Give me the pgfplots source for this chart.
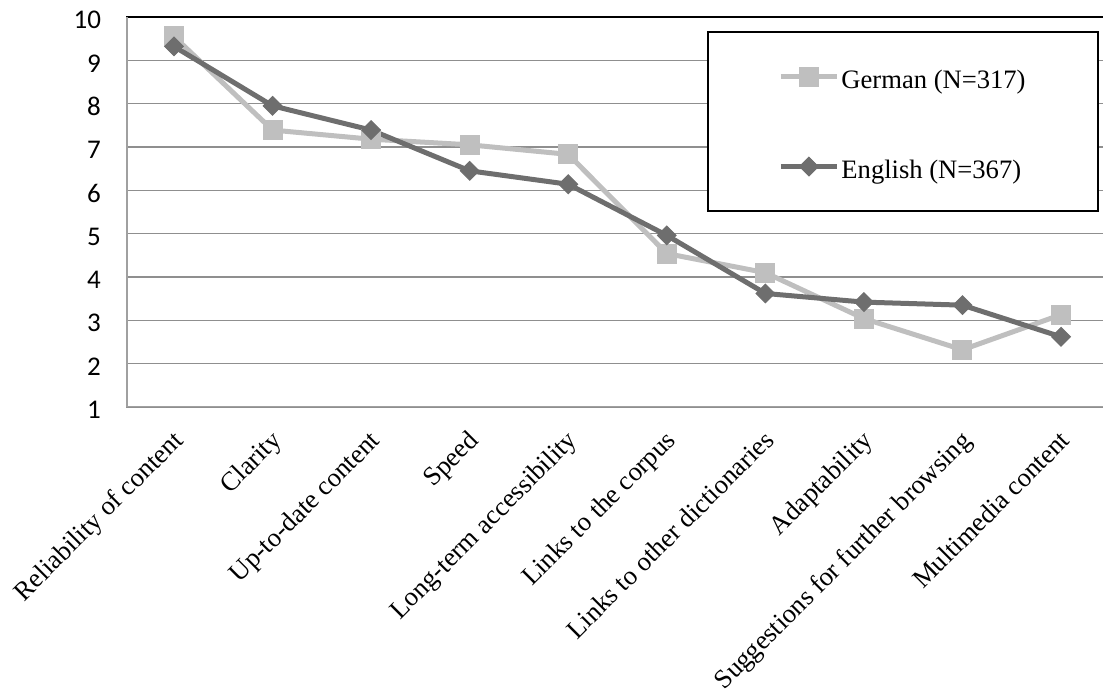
\documentclass[border=0pt]{standalone}
\usepackage{fontspec}
\setmainfont{Liberation Serif}
\newfontfamily\carlito{Carlito}
\usepackage{pgfplots}
\pgfplotsset{compat=1.18}
\definecolor{german}{HTML}{BFBFBF}
\definecolor{english}{HTML}{6E6E6E}
\definecolor{gridgray}{HTML}{8F8F8F}
\definecolor{axisgray}{HTML}{A0A0A0}
\begin{document}
\begin{tikzpicture}
\begin{axis}[
  scale only axis, width=488.5pt, height=195pt,
  xmin=-0.487, xmax=9.426, ymin=1, ymax=10,
  ytick={1,...,10},
  xtick={0,...,9},
  xticklabels={Reliability of content, Clarity, Up-to-date content, Speed,
    Long-term accessibility, Links to the corpus, Links to other dictionaries,
    Adaptability, Suggestions for further browsing, Multimedia content},
  tick style={draw=none},
  axis line style={draw=none},
  ymajorgrids, grid style={gridgray, line width=0.8pt},
  /pgf/number format/assume math mode=true,
  yticklabel style={font=\carlito\fontsize{13.5}{16}\selectfont, xshift=-9pt, yshift=-1.5pt},
  xticklabel style={font=\fontsize{13.3}{16}\selectfont, xshift=-1.5pt, yshift=-6pt, rotate=45, anchor=north east},
  legend style={at={(0.5947,0.964)}, anchor=north west, draw=black, line width=1pt,
    minimum width=195pt, minimum height=89.5pt, row sep=31pt,
    font=\fontsize{13.3}{16}\selectfont,
    nodes={minimum width=0pt, minimum height=0pt, inner sep=1pt, text height=12pt, text depth=0pt}},
  legend cell align=left,
  legend image code/.code={\draw[mark repeat=2,mark phase=2] plot coordinates {(0pt,0pt)(14pt,0pt)(28pt,0pt)};},
]
\coordinate (bl) at (rel axis cs:0,0);
\coordinate (tr) at (rel axis cs:1,1);
\draw[axisgray, line width=1.2pt] (rel axis cs:0,0) -- (rel axis cs:1,0);
\draw[black, line width=1pt] (rel axis cs:0,1) -- (rel axis cs:1,1);
\draw[axisgray, line width=1.5pt] (rel axis cs:0,0) -- (rel axis cs:0,1);
\addplot[german, line width=2.5pt, mark=square*, mark size=4.75pt, mark options={solid, line width=0.5pt}]
  coordinates {(0,9.55) (1,7.39) (2,7.18) (3,7.05) (4,6.83) (5,4.54) (6,4.10) (7,3.04) (8,2.32) (9,3.13)};
\addplot[english, line width=2.5pt, mark=square*, mark size=3.3pt, mark options={solid, rotate=45, line width=0.5pt}]
  coordinates {(0,9.32) (1,7.95) (2,7.39) (3,6.45) (4,6.14) (5,4.96) (6,3.62) (7,3.42) (8,3.35) (9,2.62)};
\legend{German (N=317), English (N=367)}
\end{axis}
\pgfresetboundingbox
\path ([shift={(-63pt,-141.5pt)}]bl) rectangle ([shift={(0pt,8.5pt)}]tr);
\end{tikzpicture}
\end{document}
